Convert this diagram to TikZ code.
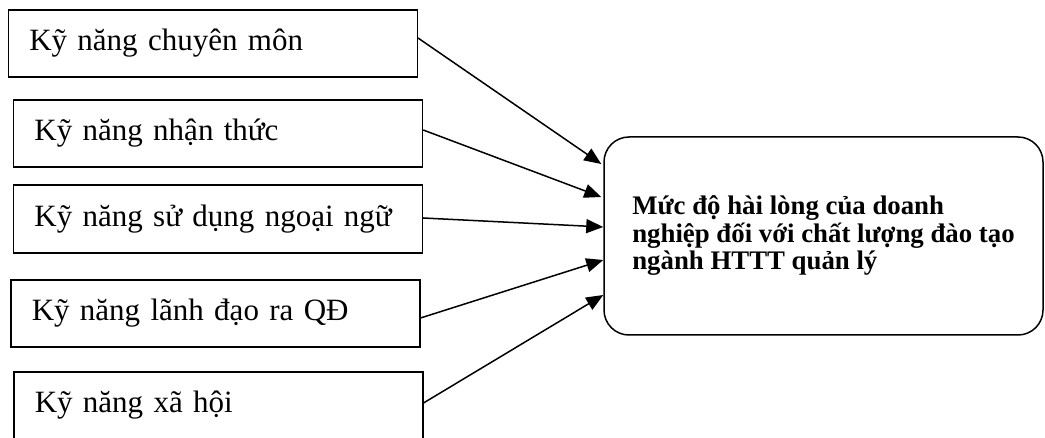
\documentclass[tikz,border=0pt]{standalone}
\usepackage{fontspec}
\setmainfont{Liberation Serif}
\usepackage{tikz}
\usetikzlibrary{arrows.meta}
\usetikzlibrary{calc}

\begin{document}
\begin{tikzpicture}[x=1pt,y=-1pt,
        skill/.style={draw,line width=1.5pt,anchor=west,minimum height=67pt,inner xsep=21pt,
            text width=367pt,align=left,font=\fontsize{31}{36}\selectfont},
        goal/.style={draw,line width=1.5pt,rounded corners=25pt,minimum width=439pt,minimum height=198pt,
            align=left,font=\bfseries\fontsize{26.8}{27.5}\selectfont},
        link/.style={line width=1.5pt,-{Triangle[length=17pt,width=14pt]}}]
        \clip (0,0) rectangle (1045,438);

        \node[skill] (chuyenmon) at (7.5,43.5) {Kỹ năng chuyên môn};
        \node[skill] (nhanthuc) at (12.7,133.5) {Kỹ năng nhận thức};
        \node[skill,minimum height=68pt] (ngoaingu) at (12.7,219) {Kỹ năng sử dụng ngoại ngữ};
        \node[skill] (lanhdao) at (10,313.5) {Kỹ năng lãnh đạo ra QĐ};
        \node[skill] (xahoi) at (13,405.5) {Kỹ năng xã hội};

        \node[goal] (hailong) at (823.5,236) {Mức độ hài lòng của doanh\\nghiệp đối với chất lượng đào tạo\\ngành HTTT quản lý};

        \coordinate (in1) at ($(hailong.west)+(-2,-72)$);
        \coordinate (in2) at ($(hailong.west)+(-2,-39)$);
        \coordinate (in3) at ($(hailong.west)+(0,-9)$);
        \coordinate (in4) at ($(hailong.west)+(0,24)$);
        \coordinate (in5) at ($(hailong.west)+(0,59)$);

        \draw[link] ($(chuyenmon.east)+(0,-5.5)$)--(in1);
        \draw[link] ($(nhanthuc.east)+(0,-3.5)$)--(in2);
        \draw[link] ($(ngoaingu.east)+(0,-1)$)--(in3);
        \draw[link] ($(lanhdao.east)+(0,4.5)$)--(in4);
        \draw[link] ($(xahoi.east)+(0,-2.5)$)--(in5);
    \end{tikzpicture}
\end{document}
